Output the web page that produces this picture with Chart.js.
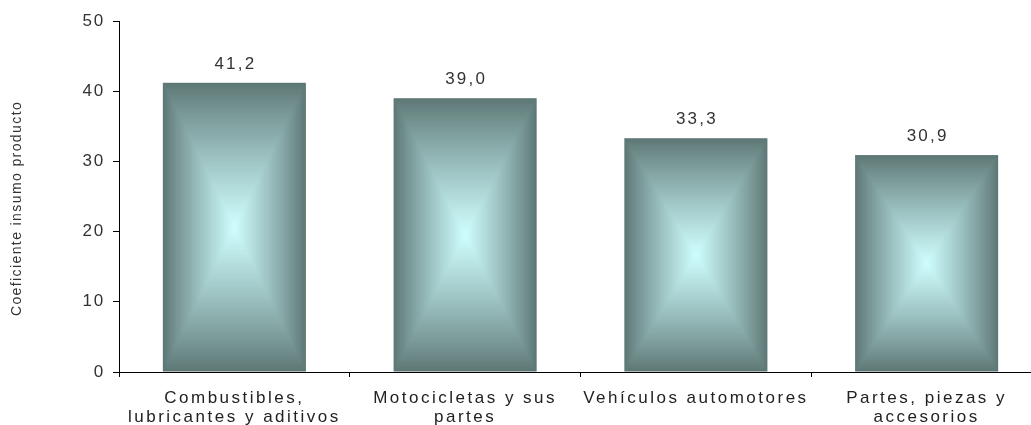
<!DOCTYPE html>
<html>
<head>
<meta charset="utf-8">
<script src="https://cdn.jsdelivr.net/npm/chart.js@4/dist/chart.umd.min.js"></script>
<style>
  html, body { margin: 0; padding: 0; background: #fff; overflow: hidden; }
  #wrap { width: 1042px; height: 425px; }
</style>
</head>
<body>
<div id="wrap"><canvas id="chart"></canvas></div>
<script>
// data
const categories = [
    ['Combustibles,', 'lubricantes y aditivos'],
    ['Motocicletas y sus', 'partes'],
    ['Vehículos automotores'],
    ['Partes, piezas y', 'accesorios']
];
const values = [41.2, 39.0, 33.3, 30.9];
const yTicks = [0, 10, 20, 30, 40, 50];
const yTitle = 'Coeficiente insumo producto';

const EDGE = [93, 119, 117];
const CENTER = [208, 255, 255];
const FONT = '"Liberation Sans", Arial, sans-serif';

function mix(t) {
    const c = EDGE.map((e, k) => Math.round(e + (CENTER[k] - e) * t));
    return `rgb(${c[0]},${c[1]},${c[2]})`;
}

// bars filled with a rectangular "from center" gradient: nested rectangles
const rectGradient = {
    id: 'rectGradient',
    beforeDraw(chart) {
        // the original spreads its letters out
        chart.ctx.letterSpacing = '1.8px';
    },
    afterDatasetsDraw(chart) {
        const ctx = chart.ctx;
        chart.getDatasetMeta(0).data.forEach((bar, i) => {
            const w = bar.width, h = bar.base - bar.y;
            const cx = bar.x, cy = (bar.y + bar.base) / 2;
            const steps = Math.ceil(w / 2);
            ctx.save();
            for (let s = 0; s <= steps; s++) {
                const f = 1 - s / steps;
                const t = Math.pow(s / steps, 0.9);
                ctx.fillStyle = mix(t);
                ctx.fillRect(cx - w * f / 2, cy - h * f / 2, w * f, h * f);
            }
            ctx.restore();

            // value label
            ctx.save();
            ctx.font = '17px ' + FONT;
            ctx.fillStyle = '#333';
            ctx.textAlign = 'center';
            ctx.textBaseline = 'bottom';
            ctx.letterSpacing = '2.2px';
            ctx.fillText(values[i].toFixed(1).replace('.', ','), bar.x + 1, bar.y - 10);
            ctx.restore();
        });
    },
    afterDraw(chart) {
        const ctx = chart.ctx;
        const xs = chart.scales.x;
        const ys = chart.scales.y;
        ctx.save();
        // category labels
        ctx.font = '17px ' + FONT;
        ctx.fillStyle = '#222';
        ctx.textAlign = 'center';
        ctx.textBaseline = 'middle';
        ctx.letterSpacing = '2.5px';
        categories.forEach((lines, i) => {
            const x = xs.getPixelForValue(i);
            lines.forEach((s, k) => ctx.fillText(s, x, xs.top + 26 + k * 19));
        });
        // axis title
        ctx.font = '14px ' + FONT;
        ctx.fillStyle = '#333';
        ctx.letterSpacing = '1.4px';
        ctx.translate(17, (ys.top + ys.bottom) / 2 + 12);
        ctx.rotate(-Math.PI / 2);
        ctx.fillText(yTitle, 0, 0);
        ctx.restore();
        ctx.letterSpacing = '0px';
    }
};

new Chart(document.getElementById('chart'), {
    type: 'bar',
    data: {
        labels: categories,
        datasets: [{
            data: values,
            backgroundColor: 'rgba(0,0,0,0)',
            categoryPercentage: 1,
            barPercentage: 0.62
        }]
    },
    options: {
        responsive: true,
        maintainAspectRatio: false,
        animation: false,
        layout: { padding: { top: 21, left: 0, right: 0, bottom: 0 } },
        plugins: {
            legend: { display: false },
            tooltip: { enabled: false }
        },
        scales: {
            x: {
                offset: true,
                border: { color: '#000', width: 1 },
                grid: { display: true, drawOnChartArea: false, color: '#000', tickLength: 5, offset: true },
                ticks: { display: false },
                afterFit(scale) { scale.height = 53; }
            },
            y: {
                min: 0,
                max: 50,
                afterBuildTicks(scale) { scale.ticks = yTicks.map(v => ({ value: v })); },
                border: { color: '#000', width: 1 },
                grid: { display: true, drawOnChartArea: false, color: '#000', tickLength: 6 },
                ticks: { color: '#333', padding: 8, font: { family: FONT, size: 17 } },
                afterFit(scale) { scale.width = 119; }
            }
        }
    },
    plugins: [rectGradient]
});
</script>
</body>
</html>
